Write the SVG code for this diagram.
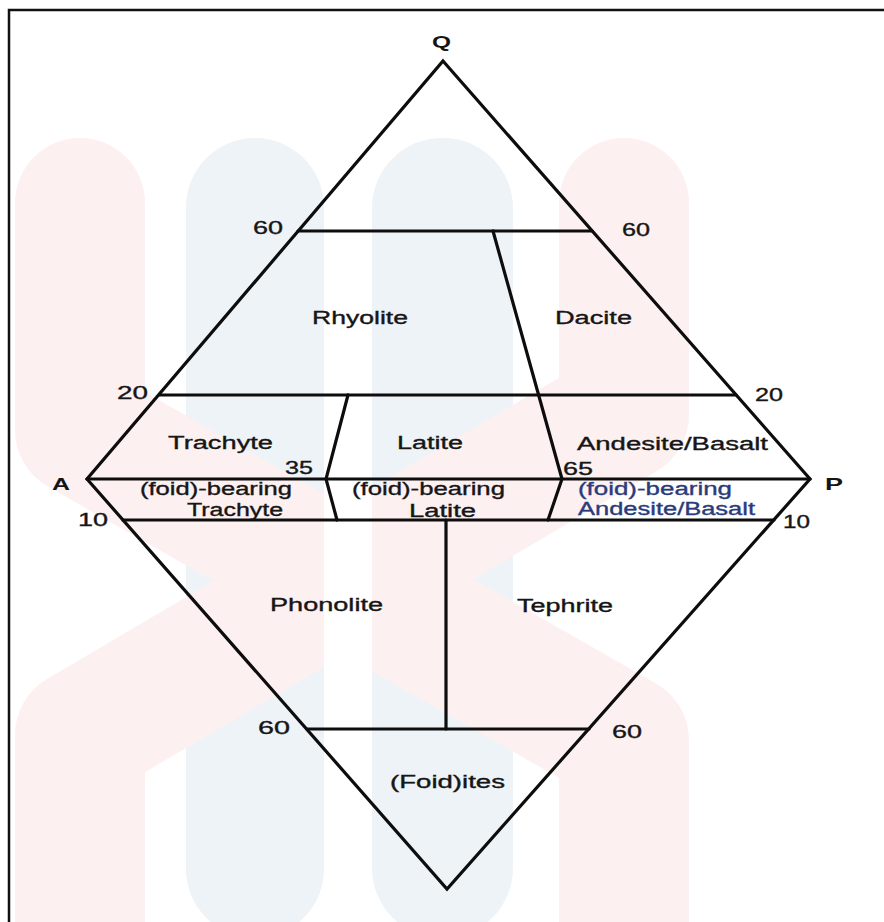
<svg xmlns="http://www.w3.org/2000/svg" width="884" height="922" viewBox="0 0 884 922">
<style>
.ln{stroke:#0d0d0d;stroke-width:3.2;fill:none;stroke-linejoin:miter;stroke-linecap:round}
.t{font-family:"Liberation Sans",Arial,sans-serif;font-size:18px;fill:#161616;stroke:#161616;stroke-width:0.35}
.b{font-family:"Liberation Sans",Arial,sans-serif;font-size:17px;font-weight:bold;fill:#141414}
.blue{fill:#2a3b7c;stroke:#2a3b7c}
.bl{fill:#eef3f8}
.strand{fill:none;stroke:#fdf0f0;stroke-width:130;stroke-linecap:round;stroke-linejoin:round}
</style>
<rect x="0" y="0" width="884" height="922" fill="#ffffff"/>
<g id="watermark">
  <rect class="bl" x="186" y="138" width="138" height="800" rx="69"/>
  <rect class="bl" x="372" y="138" width="141" height="800" rx="70"/>
  <path class="strand" d="M80,203 L80,430 L624,740 L624,960"/>
  <path class="strand" d="M624,203 L624,415 L80,735 L80,960"/>
  <rect x="324" y="100" width="48" height="840" fill="#ffffff"/>
</g>
<rect x="9" y="10" width="900" height="940" fill="none" stroke="#111" stroke-width="2.5"/>
<g id="connectors">
  <polygon class="ln" points="443,61 810,479 447,889 87,479"/>
  <line class="ln" x1="298" y1="231" x2="592" y2="231"/>
  <line class="ln" x1="159" y1="395" x2="736" y2="395"/>
  <line class="ln" x1="87" y1="479" x2="810" y2="479"/>
  <line class="ln" x1="123" y1="520" x2="774" y2="520"/>
  <line class="ln" x1="307" y1="729" x2="589" y2="729"/>
  <line class="ln" x1="446" y1="520" x2="446" y2="729"/>
  <polyline class="ln" points="493,231 562,479 548,520"/>
  <polyline class="ln" points="348,395 326,479 337,520"/>
</g>
<g id="apex-labels">
  <text class="b" x="432" y="48" textLength="19" lengthAdjust="spacingAndGlyphs">Q</text>
  <text class="b" x="52" y="490" textLength="18" lengthAdjust="spacingAndGlyphs">A</text>
  <text class="b" x="825" y="490" textLength="18" lengthAdjust="spacingAndGlyphs">P</text>
</g>
<g id="tick-labels">
  <text class="t" x="253" y="234" textLength="30" lengthAdjust="spacingAndGlyphs">60</text>
  <text class="t" x="622" y="236" textLength="28" lengthAdjust="spacingAndGlyphs">60</text>
  <text class="t" x="117" y="399" textLength="31" lengthAdjust="spacingAndGlyphs">20</text>
  <text class="t" x="755" y="401" textLength="28" lengthAdjust="spacingAndGlyphs">20</text>
  <text class="t" x="285" y="474" textLength="28" lengthAdjust="spacingAndGlyphs">35</text>
  <text class="t" x="563" y="475" textLength="30" lengthAdjust="spacingAndGlyphs">65</text>
  <text class="t" x="78" y="526" textLength="30" lengthAdjust="spacingAndGlyphs">10</text>
  <text class="t" x="783" y="528" textLength="27" lengthAdjust="spacingAndGlyphs">10</text>
  <text class="t" x="258" y="734" textLength="32" lengthAdjust="spacingAndGlyphs">60</text>
  <text class="t" x="612" y="738" textLength="30" lengthAdjust="spacingAndGlyphs">60</text>
</g>
<g id="rhyolite"><text class="t" x="312" y="324" textLength="96" lengthAdjust="spacingAndGlyphs">Rhyolite</text></g>
<g id="dacite"><text class="t" x="555" y="324" textLength="77" lengthAdjust="spacingAndGlyphs">Dacite</text></g>
<g id="trachyte"><text class="t" x="168" y="449" textLength="105" lengthAdjust="spacingAndGlyphs">Trachyte</text></g>
<g id="latite"><text class="t" x="397" y="449" textLength="66" lengthAdjust="spacingAndGlyphs">Latite</text></g>
<g id="andesite-basalt"><text class="t" x="577" y="450" textLength="191" lengthAdjust="spacingAndGlyphs">Andesite/Basalt</text></g>
<g id="foid-trachyte">
  <text class="t" x="140" y="495" textLength="152" lengthAdjust="spacingAndGlyphs">(foid)-bearing</text>
  <text class="t" x="187" y="516" textLength="96" lengthAdjust="spacingAndGlyphs">Trachyte</text>
</g>
<g id="foid-latite">
  <text class="t" x="352" y="495" textLength="153" lengthAdjust="spacingAndGlyphs">(foid)-bearing</text>
  <text class="t" x="409" y="517" textLength="67" lengthAdjust="spacingAndGlyphs">Latite</text>
</g>
<g id="foid-andesite-basalt">
  <text class="t blue" x="578" y="495" textLength="154" lengthAdjust="spacingAndGlyphs">(foid)-bearing</text>
  <text class="t blue" x="578" y="515" textLength="177" lengthAdjust="spacingAndGlyphs">Andesite/Basalt</text>
</g>
<g id="phonolite"><text class="t" x="270" y="611" textLength="113" lengthAdjust="spacingAndGlyphs">Phonolite</text></g>
<g id="tephrite"><text class="t" x="517" y="612" textLength="96" lengthAdjust="spacingAndGlyphs">Tephrite</text></g>
<g id="foidites"><text class="t" x="390" y="788" textLength="115" lengthAdjust="spacingAndGlyphs">(Foid)ites</text></g>
</svg>
